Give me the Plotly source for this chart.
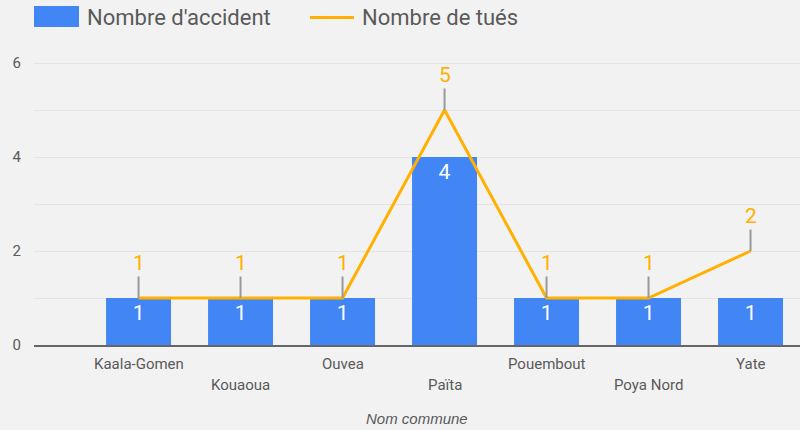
import plotly.graph_objects as go

communes = ["Kaala-Gomen", "Kouaoua", "Ouvea", "Païta", "Pouembout", "Poya Nord", "Yate"]
accidents = [1, 1, 1, 4, 1, 1, 1]
tues = [1, 1, 1, 5, 1, 1, 2]
y_ticks = [0, 2, 4, 6]

BLUE = "#4285f4"
ORANGE = "#ffb000"
BG = "#f2f2f2"
TXT = "#5a5a5a"
FONT = "Roboto"

W, H = 800, 430
ML, MR, MT, MB = 34, 0, 40, 85
PW, PH = W - ML - MR, H - MT - MB


def px(x):
    return (x - ML) / PW


def py(y):
    return (H - MB - y) / PH


fig = go.Figure()
fig.add_trace(go.Bar(
    x=communes, y=accidents, name="Nombre d'accident",
    marker=dict(color=BLUE, line=dict(width=0)),
    text=[str(v) for v in accidents], textposition="inside",
    insidetextanchor="end", textangle=0,
    textfont=dict(family=FONT, size=21, color="white"),
    showlegend=False,
))
fig.add_trace(go.Scatter(
    x=communes, y=tues, name="Nombre de tués", mode="lines",
    line=dict(color=ORANGE, width=3), showlegend=False,
))

annotations = []
for c, v in zip(communes, tues):
    annotations.append(dict(
        x=c, y=v, xref="x", yref="y", text=str(v), showarrow=True,
        arrowhead=0, arrowwidth=2, arrowcolor="#999999", ax=0, ay=-35,
        font=dict(family=FONT, size=21, color=ORANGE),
    ))

for i, c in enumerate(communes):
    annotations.append(dict(
        x=c, xref="x", y=py(364 if i % 2 == 0 else 385), yref="paper",
        text=c, showarrow=False, xanchor="center", yanchor="middle",
        font=dict(family=FONT, size=15, color=TXT),
    ))

annotations.append(dict(
    x=0.5, xref="paper", y=py(418), yref="paper", text="<i>Nom commune</i>",
    showarrow=False, xanchor="center", yanchor="middle",
    font=dict(family="Arial", size=15, color=TXT),
))

# legend
annotations.append(dict(
    x=px(85), xref="paper", y=py(17), yref="paper", text="Nombre d'accident",
    showarrow=False, xanchor="left", yanchor="middle",
    font=dict(family=FONT, size=22, color=TXT),
))
annotations.append(dict(
    x=px(360), xref="paper", y=py(17), yref="paper", text="Nombre de tués",
    showarrow=False, xanchor="left", yanchor="middle",
    font=dict(family=FONT, size=22, color=TXT),
))
shapes = [
    dict(type="rect", xref="paper", yref="paper", x0=px(34), x1=px(79),
         y0=py(27), y1=py(6), fillcolor=BLUE, line=dict(width=0)),
    dict(type="line", xref="paper", yref="paper", x0=px(310), x1=px(354),
         y0=py(17.5), y1=py(17.5), line=dict(color=ORANGE, width=3)),
]

fig.update_layout(
    width=W, height=H,
    margin=dict(l=ML, r=MR, t=MT, b=MB),
    paper_bgcolor=BG, plot_bgcolor=BG,
    bargap=0.363,
    font=dict(family=FONT, color=TXT),
    annotations=annotations, shapes=shapes,
    hovermode=False,
    xaxis=dict(
        type="category", range=[-1.025, 6.485], showgrid=False,
        showticklabels=False, ticks="", showline=True, linecolor="#666666",
        linewidth=2, zeroline=False, fixedrange=True,
    ),
    yaxis=dict(
        range=[0, PH / 47.0], tickvals=y_ticks, showgrid=True,
        gridcolor="#e4e4e4", gridwidth=1, zeroline=False, showline=False,
        tickfont=dict(family=FONT, size=15, color=TXT), ticklabelstandoff=12,
        minor=dict(dtick=1, showgrid=True, gridcolor="#e4e4e4", gridwidth=1),
        fixedrange=True,
    ),
)

fig.write_html("out.html", config={"displayModeBar": False},
               post_script="document.body.style.margin='0';")
